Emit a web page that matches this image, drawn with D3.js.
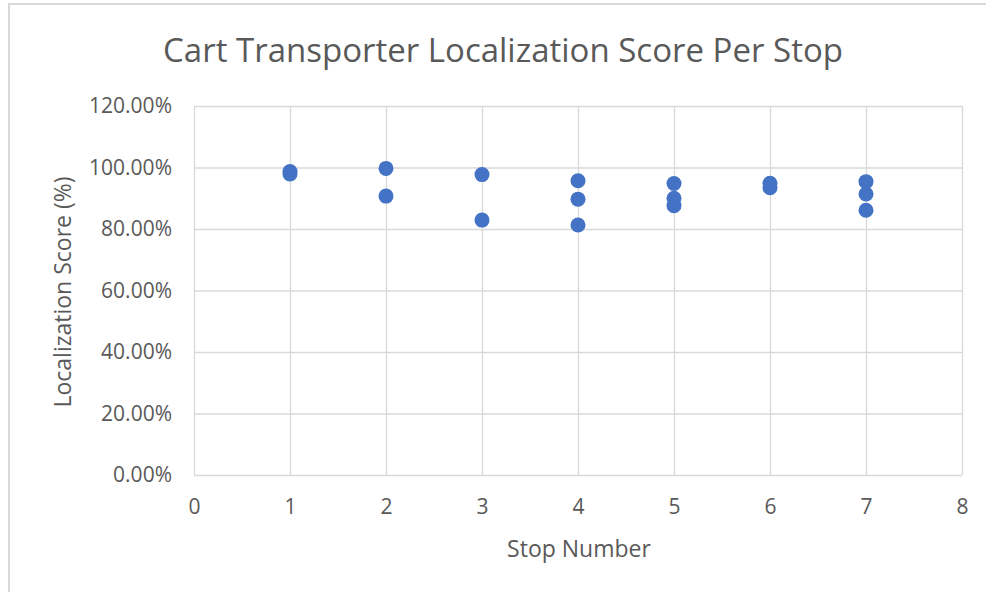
<!DOCTYPE html>
<html>
<head>
<meta charset="utf-8">
<script src="https://cdn.jsdelivr.net/npm/d3@7"></script>
<style>
  body { margin: 0; background: #fff; }
  svg text { font-family: "Open Sans", "Liberation Sans", sans-serif; fill: #595959; }
</style>
</head>
<body>
<div id="chart"></div>
<script>
const chartTitle = 'Cart Transporter Localization Score Per Stop';
const xTitle = 'Stop Number';
const yTitle = 'Localization Score (%)';

// one entry per measured point
const stops = [1, 1, 2, 2, 3, 3, 4, 4, 4, 5, 5, 5, 6, 6, 7, 7, 7];
const scores = [98.7, 97.9, 99.7, 90.7, 97.7, 82.9, 95.7, 89.7, 81.3, 94.8, 90.0, 87.6, 94.9, 93.4, 95.4, 91.4, 86.1];

const xTicks = [0, 1, 2, 3, 4, 5, 6, 7, 8];
const yTicks = [0, 20, 40, 60, 80, 100, 120];

const W = 986, H = 592;
const plot = { left: 194, right: 962, top: 106, bottom: 475 };

const svg = d3.select('#chart').append('svg')
    .attr('width', W)
    .attr('height', H);

// chart frame (only top and left edges show in the crop)
svg.append('path')
    .attr('d', `M9,${H} L9,4 L${W},4`)
    .attr('fill', 'none')
    .attr('stroke', '#d9d9d9')
    .attr('stroke-width', 2);

const x = d3.scaleLinear().domain([0, 8]).range([plot.left, plot.right]);
const y = d3.scaleLinear().domain([0, 120]).range([plot.bottom, plot.top]);

// vertical grid
svg.append('g')
    .attr('transform', `translate(0,${plot.bottom})`)
    .call(d3.axisBottom(x).tickValues(xTicks).tickSize(-(plot.bottom - plot.top)).tickFormat(''))
    .call(g => g.select('.domain').remove())
    .call(g => g.selectAll('line').attr('stroke', '#d9d9d9').attr('stroke-width', 1.3));

// horizontal grid
svg.append('g')
    .attr('transform', `translate(${plot.left},0)`)
    .call(d3.axisLeft(y).tickValues(yTicks).tickSize(-(plot.right - plot.left)).tickFormat(''))
    .call(g => g.select('.domain').remove())
    .call(g => g.selectAll('line').attr('stroke', '#d9d9d9').attr('stroke-width', 1.3));

// x tick labels
svg.append('g')
    .attr('transform', `translate(0,${plot.bottom})`)
    .call(d3.axisBottom(x).tickValues(xTicks).tickSize(0).tickPadding(24).tickFormat(d3.format('d')))
    .call(g => g.select('.domain').remove())
    .call(g => g.selectAll('text').style('font-size', '21px').attr('fill', '#595959'));

// y tick labels
svg.append('g')
    .attr('transform', `translate(${plot.left},0)`)
    .call(d3.axisLeft(y).tickValues(yTicks).tickSize(0).tickPadding(22).tickFormat(d => d.toFixed(2) + '%'))
    .call(g => g.select('.domain').remove())
    .call(g => g.selectAll('text').style('font-size', '21px').attr('fill', '#595959'));

// points
svg.append('g')
    .selectAll('circle')
    .data(stops.map((s, i) => ({ stop: s, score: scores[i] })))
    .enter()
    .append('circle')
    .attr('cx', d => x(d.stop))
    .attr('cy', d => y(d.score))
    .attr('r', 7.5)
    .attr('fill', '#4472c4');

svg.append('text')
    .attr('x', 503)
    .attr('y', 62)
    .attr('text-anchor', 'middle')
    .style('font-size', '33px')
    .text(chartTitle);

svg.append('text')
    .attr('x', 579)
    .attr('y', 557)
    .attr('text-anchor', 'middle')
    .style('font-size', '23px')
    .text(xTitle);

svg.append('text')
    .attr('transform', `translate(71,292) rotate(-90)`)
    .attr('text-anchor', 'middle')
    .style('font-size', '23px')
    .text(yTitle);
</script>
</body>
</html>
